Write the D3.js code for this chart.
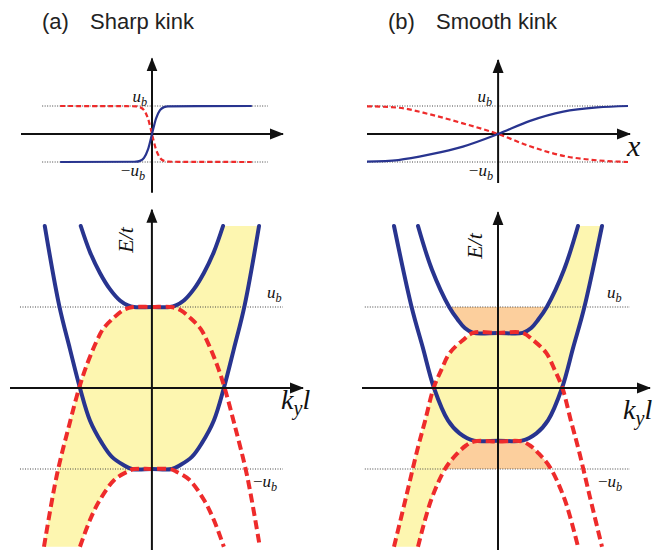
<!DOCTYPE html>
<html>
<head>
<meta charset="utf-8">
<script src="https://cdn.jsdelivr.net/npm/d3@7"></script>
<style>
  body { margin: 0; background: #fff; }
  svg { display: block; }
</style>
</head>
<body>
<svg id="chart"></svg>
<script>
// ---- top panels: kink profile u(x), u in units of u_b ----
const sharpX    = [-2.3, -0.4, -0.3, -0.2, -0.1, 0, 0.1, 0.2, 0.3, 0.4, 2.5];
const sharpBlue = [-1, -0.99, -0.96, -0.85, -0.55, 0, 0.55, 0.85, 0.96, 0.99, 1];
const sharpRed  = [1, 0.99, 0.96, 0.85, 0.55, 0, -0.55, -0.85, -0.96, -0.99, -1];

const smoothX    = [-3.28, -2.5, -1.7, -0.88, 0, 0.8, 1.63, 2.48, 3.25];
const smoothBlue = [-0.99, -0.93, -0.73, -0.45, 0, 0.47, 0.8, 0.95, 1.0];
const smoothRed  = [0.99, 0.94, 0.7, 0.38, 0, -0.44, -0.78, -0.94, -1.0];

// ---- bottom panels: E(k_y) branches, E in units of u_b ----
// (a) sharp kink
const aBlueOuterK = [-2.68, -2.32, -2.05, -1.8, -1.55, -1.25, -1.0, -0.71, -0.5, 0, 0.5, 0.71, 1.0, 1.25, 1.55, 1.8, 2.05, 2.32, 2.68];
const aBlueOuterE = [2.0, 1.02, 0.48, 0, -0.4, -0.68, -0.85, -0.95, -1.0, -1.0, -1.0, -0.95, -0.85, -0.68, -0.4, 0, 0.48, 1.02, 2.0];
const aBlueInnerK = [-1.78, -1.55, -1.3, -1.05, -0.8, -0.6, -0.45, 0, 0.45, 0.6, 0.8, 1.05, 1.3, 1.55, 1.78];
const aBlueInnerE = [2.0, 1.68, 1.42, 1.22, 1.08, 1.02, 1.0, 1.0, 1.0, 1.02, 1.08, 1.22, 1.42, 1.68, 2.0];
const aRedUpperK  = [-2.7, -2.38, -2.06, -1.82, -1.64, -1.39, -1.22, -0.97, -0.72, -0.47, 0, 0.47, 0.72, 0.97, 1.22, 1.39, 1.64, 1.82, 2.06, 2.38, 2.7];
const aRedUpperE  = [-1.96, -1.08, -0.44, 0, 0.27, 0.57, 0.73, 0.86, 0.96, 1.0, 1.0, 1.0, 0.96, 0.86, 0.73, 0.57, 0.27, 0, -0.44, -1.08, -1.96];
const aRedLowerK  = [-1.8, -1.55, -1.3, -0.93, -0.6, -0.45, 0, 0.45, 0.6, 0.93, 1.3, 1.55, 1.8];
const aRedLowerE  = [-1.96, -1.63, -1.38, -1.13, -1.03, -1.0, -1.0, -1.0, -1.03, -1.13, -1.38, -1.63, -1.96];

// (b) smooth kink
const bBlueOuterK = [-2.6, -2.16, -1.88, -1.6, -1.25, -0.96, -0.6, 0, 0.6, 0.96, 1.25, 1.6, 1.88, 2.16, 2.6];
const bBlueOuterE = [2.0, 1.0, 0.5, 0, -0.4, -0.56, -0.65, -0.65, -0.65, -0.56, -0.4, 0, 0.5, 1.0, 2.0];
const bBlueInnerK = [-2.0, -1.65, -1.22, -1.0, -0.83, -0.62, 0, 0.62, 0.83, 1.0, 1.22, 1.65, 2.0];
const bBlueInnerE = [2.0, 1.46, 1.0, 0.84, 0.74, 0.68, 0.68, 0.68, 0.74, 0.84, 1.0, 1.46, 2.0];
const bRedUpperK  = [-2.6, -2.3, -2.02, -1.82, -1.61, -1.42, -1.21, -0.88, -0.62, 0, 0.62, 0.88, 1.21, 1.42, 1.61, 1.82, 2.02, 2.3, 2.6];
const bRedUpperE  = [-1.96, -1.35, -0.77, -0.4, 0, 0.22, 0.43, 0.59, 0.68, 0.68, 0.68, 0.59, 0.43, 0.22, 0, -0.4, -0.77, -1.35, -1.96];
const bRedLowerK  = [-2.0, -1.67, -1.3, -1.0, -0.8, -0.6, 0, 0.6, 0.8, 1.0, 1.3, 1.67, 2.0];
const bRedLowerE  = [-1.96, -1.38, -0.98, -0.8, -0.71, -0.66, -0.66, -0.66, -0.71, -0.8, -0.98, -1.38, -1.96];

const titles = ["(a)", "(b)"];
const kinkNames = ["Sharp kink", "Smooth kink"];

const w = 663, h = 550;
const blue = "#28348f", red = "#ee2b2b", yellow = "#fdf6b0", orange = "#fccf9d";
const mathFont = "'Liberation Serif', 'DejaVu Serif', serif";

const svg = d3.select("#chart").attr("width", w).attr("height", h);

const defs = svg.append("defs");
defs.append("marker")
  .attr("id", "arrow")
  .attr("markerUnits", "userSpaceOnUse")
  .attr("viewBox", "0 -6 14 12")
  .attr("refX", 13).attr("refY", 0)
  .attr("markerWidth", 14).attr("markerHeight", 12)
  .attr("orient", "auto")
  .append("path").attr("d", "M0,-5.5L14,0L0,5.5Z").attr("fill", "#111");

const zip = (ks, es) => ks.map((k, i) => [k, es[i]]);

// subscripted math label, e.g. u_b, -u_b, k_y l
function mathLabel(g, x, y, parts, size, anchor) {
  const t = g.append("text")
    .attr("x", x).attr("y", y)
    .attr("font-family", mathFont)
    .attr("font-style", "italic")
    .attr("font-size", size)
    .attr("text-anchor", anchor || "start")
    .attr("fill", "#111");
  let shift = 0;
  parts.forEach(p => {
    const dy = (p.sub ? size * 0.22 : 0) - shift;
    shift += dy;
    t.append("tspan")
      .attr("dy", dy)
      .attr("font-size", p.sub ? size * 0.72 : size)
      .attr("font-style", p.upright ? "normal" : "italic")
      .text(p.t);
  });
  return t;
}

function axisLines(g, x, y, xr, yr, sw) {
  g.append("line")
    .attr("x1", x(xr[0])).attr("x2", x(xr[1]))
    .attr("y1", y(0)).attr("y2", y(0))
    .attr("stroke", "#111").attr("stroke-width", sw)
    .attr("marker-end", "url(#arrow)");
  g.append("line")
    .attr("x1", x(0)).attr("x2", x(0))
    .attr("y1", y(yr[0])).attr("y2", y(yr[1]))
    .attr("stroke", "#111").attr("stroke-width", sw)
    .attr("marker-end", "url(#arrow)");
}

function dotted(g, x, y, xr, levels) {
  levels.forEach(v => {
    g.append("line")
      .attr("x1", x(xr[0])).attr("x2", x(xr[1]))
      .attr("y1", y(v)).attr("y2", y(v))
      .attr("stroke", "#444").attr("stroke-width", 1)
      .attr("stroke-dasharray", "1,1.5");
  });
}

// ---------- titles ----------
[[42, 90], [388, 436]].forEach((pos, i) => {
  svg.append("text").attr("x", pos[0]).attr("y", 29)
    .attr("font-family", "'Liberation Sans', Arial, sans-serif")
    .attr("font-size", 22).attr("fill", "#222").text(titles[i]);
  svg.append("text").attr("x", pos[1]).attr("y", 29)
    .attr("font-family", "'Liberation Sans', Arial, sans-serif")
    .attr("font-size", 22).attr("fill", "#222").text(kinkNames[i]);
});

// ---------- top panels ----------
const topPanels = [
  { cx: [-3.28, 3.28], range: [21, 283], xs: sharpX, bl: sharpBlue, rd: sharpRed,
    dot: [-2.75, 2.9], yr: [-2.1, 2.7], ubX: 147, mubX: 145, xlabel: false },
  { cx: [-3.28, 3.3], range: [367, 630], xs: smoothX, bl: smoothBlue, rd: smoothRed,
    dot: [-3.28, 3.28], yr: [-1.75, 2.64], ubX: 492, mubX: 493, xlabel: true }
];

topPanels.forEach(p => {
  const g = svg.append("g");
  const x = d3.scaleLinear().domain(p.cx).range(p.range);
  const y = d3.scaleLinear().domain([-1, 1]).range([162, 106]);
  const line = d3.line().x(d => x(d[0])).y(d => y(d[1])).curve(d3.curveMonotoneX);

  dotted(g, x, y, p.dot, [1, -1]);
  axisLines(g, x, y, [p.cx[0], p.cx[1]], p.yr, 2);

  g.append("path").attr("d", line(zip(p.xs, p.rd)))
    .attr("fill", "none").attr("stroke", red).attr("stroke-width", 2.2)
    .attr("stroke-dasharray", "5,3");
  g.append("path").attr("d", line(zip(p.xs, p.bl)))
    .attr("fill", "none").attr("stroke", blue).attr("stroke-width", 2.2);

  mathLabel(g, p.ubX, 102, [{ t: "u" }, { t: "b", sub: true }], 17, "end");
  mathLabel(g, p.mubX, 176, [{ t: "\u2212", upright: true }, { t: "u" }, { t: "b", sub: true }], 17, "end");
  if (p.xlabel) {
    g.append("text").attr("x", 627).attr("y", 156)
      .attr("font-family", mathFont).attr("font-style", "italic")
      .attr("font-size", 30).attr("fill", "#111").text("x");
  }
});

// ---------- bottom panels ----------
const bottomPanels = [
  { kd: [-3.55, 3.78], range: [10, 303], yr: [-2.0, 2.2], dot: [-3.3, 3.28],
    bo: zip(aBlueOuterK, aBlueOuterE), bi: zip(aBlueInnerK, aBlueInnerE),
    ru: zip(aRedUpperK, aRedUpperE), rl: zip(aRedLowerK, aRedLowerE),
    orange: false, eX: 133, eY: 240, kX: 281, kY: 409, ubX: 267, mubX: 253 },
  { kd: [-3.4, 3.8], range: [362, 650], yr: [-2.0, 2.17], dot: [-3.33, 3.3],
    bo: zip(bBlueOuterK, bBlueOuterE), bi: zip(bBlueInnerK, bBlueInnerE),
    ru: zip(bRedUpperK, bRedUpperE), rl: zip(bRedLowerK, bRedLowerE),
    orange: true, eX: 482, eY: 246, kX: 623, kY: 419, ubX: 607, mubX: 598 }
];

bottomPanels.forEach((p, i) => {
  const g = svg.append("g");
  const x = d3.scaleLinear().domain(p.kd).range(p.range);
  const y = d3.scaleLinear().domain([-2, 2]).range([550, 226]);
  const curve = d3.curveCatmullRom.alpha(0.5);
  const line = d3.line().x(d => x(d[0])).y(d => y(d[1])).curve(curve);

  // yellow band: upper edge = red upper (k<=0) + blue inner (k>0),
  // lower edge = red lower (k<=0) + blue outer (k>0)
  const upper = p.ru.filter(d => d[0] <= 0).concat(p.bi.filter(d => d[0] > 0));
  const lower = p.rl.filter(d => d[0] <= 0).concat(p.bo.filter(d => d[0] > 0));
  const bandPath = line(upper) + line(lower.slice().reverse()).replace(/^M/, "L") + "Z";
  g.append("path").attr("d", bandPath).attr("fill", yellow);

  if (p.orange) {
    const clipId = "clipOrange" + i;
    defs.append("clipPath").attr("id", clipId)
      .append("rect")
      .attr("x", p.range[0]).attr("width", p.range[1] - p.range[0])
      .attr("y", y(1)).attr("height", y(-1) - y(1));
    const areaTop = d3.area().x(d => x(d[0])).y0(y(1)).y1(d => y(d[1])).curve(curve);
    const areaBot = d3.area().x(d => x(d[0])).y0(y(-1)).y1(d => y(d[1])).curve(curve);
    g.append("path").attr("d", areaTop(p.bi)).attr("fill", orange).attr("clip-path", `url(#${clipId})`);
    g.append("path").attr("d", areaBot(p.rl)).attr("fill", orange).attr("clip-path", `url(#${clipId})`);
  }

  dotted(g, x, y, p.dot, [1, -1]);

  [p.bo, p.bi].forEach(d => {
    g.append("path").attr("d", line(d))
      .attr("fill", "none").attr("stroke", blue).attr("stroke-width", 4)
      .attr("stroke-linecap", "round");
  });
  [p.ru, p.rl].forEach(d => {
    g.append("path").attr("d", line(d))
      .attr("fill", "none").attr("stroke", red).attr("stroke-width", 4)
      .attr("stroke-dasharray", "9,4.5");
  });

  axisLines(g, x, y, [p.kd[0], p.kd[1]], p.yr, 2);

  // E/t rotated label
  g.append("text")
    .attr("transform", `translate(${p.eX},${p.eY}) rotate(-90)`)
    .attr("text-anchor", "middle")
    .attr("font-family", mathFont).attr("font-style", "italic")
    .attr("font-size", 22).attr("fill", "#111").text("E/t");

  mathLabel(g, p.kX, p.kY, [{ t: "k" }, { t: "y", sub: true }, { t: "l" }], 28, "start");
  mathLabel(g, p.ubX, 298, [{ t: "u" }, { t: "b", sub: true }], 17, "start");
  mathLabel(g, p.mubX, 487, [{ t: "\u2212", upright: true }, { t: "u" }, { t: "b", sub: true }], 17, "start");
});
</script>
</body>
</html>
